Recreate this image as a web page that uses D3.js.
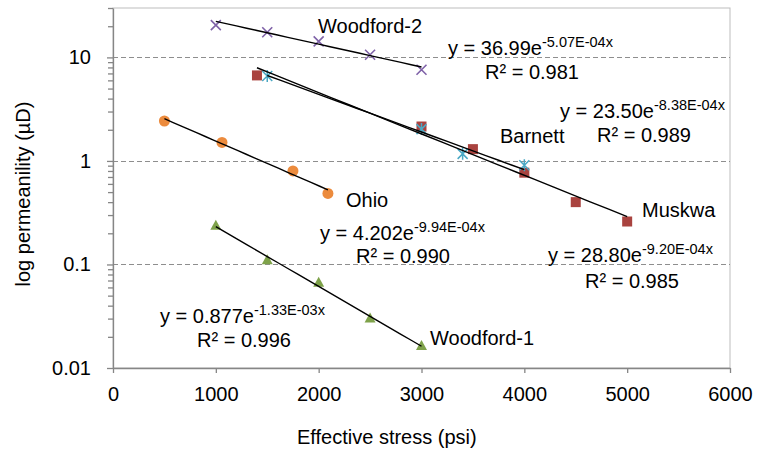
<!DOCTYPE html>
<html>
<head>
<meta charset="utf-8">
<script src="https://cdnjs.cloudflare.com/ajax/libs/d3/7.8.5/d3.min.js"></script>
<style>
  html, body { margin: 0; padding: 0; background: #fff; }
  svg { display: block; font-family: Arial, "Liberation Sans", sans-serif; }
</style>
</head>
<body>
<svg id="chart" width="758" height="450"></svg>
<script>
// Effective stress (psi) and permeability (µD) measurements per shale sample
const woodford2Stress = [1000, 1500, 2000, 2500, 3000];
const woodford2Perm   = [20.5, 17.5, 14.3, 10.6, 7.6];

const muskwaStress = [1400, 3000, 3500, 4000, 4500, 5000];
const muskwaPerm   = [6.7, 2.15, 1.30, 0.77, 0.40, 0.26];

const barnettStress = [1500, 3000, 3400, 4000];
const barnettPerm   = [6.6, 2.03, 1.17, 0.91];

const ohioStress = [500, 1060, 1750, 2090];
const ohioPerm   = [2.43, 1.51, 0.80, 0.486];

const woodford1Stress = [1000, 1500, 2000, 2500, 3000];
const woodford1Perm   = [0.236, 0.11, 0.0667, 0.030, 0.0163];

// Exponential fits y = a·e^(b·x) and their R² values
const seriesNames = ["Woodford-2", "Muskwa", "Barnett", "Ohio", "Woodford-1"];
const fitA     = [36.99, 28.80, 23.50, 4.202, 0.877];
const fitB     = [-5.07e-4, -9.20e-4, -8.38e-4, -9.94e-4, -1.33e-3];
const fitAText = ["36.99", "28.80", "23.50", "4.202", "0.877"];
const fitBText = ["-5.07E-04x", "-9.20E-04x", "-8.38E-04x", "-9.94E-04x", "-1.33E-03x"];
const fitR2    = ["0.981", "0.985", "0.989", "0.990", "0.996"];

// Axis ticks
const xTicks = [0, 1000, 2000, 3000, 4000, 5000, 6000];
const xTickLabels = ["0", "1000", "2000", "3000", "4000", "5000", "6000"];
const yTicks = [0.01, 0.1, 1, 10];
const yTickLabels = ["0.01", "0.1", "1", "10"];

const xTitle = "Effective stress (psi)";
const yTitle = "log permeanility (µD)";

const stressSets = [woodford2Stress, muskwaStress, barnettStress, ohioStress, woodford1Stress];
const permSets   = [woodford2Perm, muskwaPerm, barnettPerm, ohioPerm, woodford1Perm];

// ---- layout ----
const plot = { left: 113, right: 730, top: 8, bottom: 368 };
const svg = d3.select("#chart");

const x = d3.scaleLinear().domain([0, 6000]).range([plot.left, plot.right]);
const y = d3.scaleLog().domain([0.01, 30]).range([plot.bottom, plot.top]);

const axisGray = "#868686";
const colors  = ["#7f62a8", "#a9433f", "#4aa8c4", "#ec8b3d", "#7ea24a"];
const shapes  = ["cross", "square", "asterisk", "circle", "triangle"];

// plot frame
svg.append("rect")
  .attr("x", plot.left).attr("y", plot.top)
  .attr("width", plot.right - plot.left).attr("height", plot.bottom - plot.top)
  .attr("fill", "none").attr("stroke", "#bdbdbd").attr("stroke-width", 1);

// dashed gridlines on the major decades
svg.append("g").selectAll("line")
  .data(yTicks.filter(v => v > 0.01))
  .join("line")
  .attr("x1", plot.left).attr("x2", plot.right)
  .attr("y1", d => Math.round(y(d)) + 0.5).attr("y2", d => Math.round(y(d)) + 0.5)
  .attr("stroke", "#8e8e8e").attr("stroke-width", 1)
  .attr("stroke-dasharray", "5,3");

// x axis
const xAxis = svg.append("g")
  .attr("transform", `translate(0,${plot.bottom})`)
  .call(d3.axisBottom(x).tickValues(xTicks).tickSize(5).tickSizeOuter(0).tickPadding(14)
    .tickFormat((d, i) => xTickLabels[i]));
xAxis.select(".domain").attr("stroke", axisGray).attr("stroke-width", 1.3);
xAxis.selectAll(".tick line").attr("stroke", axisGray).attr("stroke-width", 1.3);
xAxis.selectAll(".tick text")
  .attr("font-size", 20).attr("fill", "#000").attr("font-family", "Arial, 'Liberation Sans', sans-serif");

// y axis: minor ticks at every integer multiple within each decade
const minorTicks = [];
[0.01, 0.1, 1, 10].forEach(dec => {
  for (let k = 2; k <= 9; k++) {
    const v = dec * k;
    if (v <= 30) minorTicks.push(v);
  }
});
const yMinor = svg.append("g")
  .attr("transform", `translate(${plot.left},0)`)
  .call(d3.axisLeft(y).tickValues(minorTicks).tickSize(5).tickFormat(""));
yMinor.select(".domain").remove();
yMinor.selectAll(".tick line").attr("stroke", axisGray).attr("stroke-width", 1.3);

const yAxis = svg.append("g")
  .attr("transform", `translate(${plot.left},0)`)
  .call(d3.axisLeft(y).tickValues(yTicks).tickSize(6).tickSizeOuter(0).tickPadding(16)
    .tickFormat((d, i) => yTickLabels[i]));
yAxis.select(".domain").attr("stroke", axisGray).attr("stroke-width", 1.3);
yAxis.selectAll(".tick line").attr("stroke", axisGray).attr("stroke-width", 1.3);
yAxis.selectAll(".tick text")
  .attr("font-size", 20).attr("fill", "#000").attr("font-family", "Arial, 'Liberation Sans', sans-serif");

// axis titles
svg.append("text")
  .attr("x", 297).attr("y", 444)
  .attr("font-size", 20).attr("fill", "#000")
  .text(xTitle);
svg.append("text")
  .attr("transform", "translate(30,194) rotate(-90)")
  .attr("text-anchor", "middle")
  .attr("font-size", 20).attr("fill", "#000")
  .text(yTitle);

// markers
function drawMarker(g, shape, color, cx, cy) {
  if (shape === "cross") {
    const r = 5;
    g.append("path")
      .attr("d", `M${cx - r},${cy - r}L${cx + r},${cy + r}M${cx - r},${cy + r}L${cx + r},${cy - r}`)
      .attr("stroke", color).attr("stroke-width", 1.6).attr("fill", "none");
  } else if (shape === "square") {
    const s = 10;
    g.append("rect").attr("x", cx - s / 2).attr("y", cy - s / 2)
      .attr("width", s).attr("height", s).attr("fill", color);
  } else if (shape === "asterisk") {
    const r = 5;
    g.append("path")
      .attr("d", `M${cx - r},${cy - r}L${cx + r},${cy + r}M${cx - r},${cy + r}L${cx + r},${cy - r}M${cx},${cy - r - 1}L${cx},${cy + r + 1}`)
      .attr("stroke", color).attr("stroke-width", 1.5).attr("fill", "none");
  } else if (shape === "circle") {
    g.append("circle").attr("cx", cx).attr("cy", cy).attr("r", 5.5).attr("fill", color);
  } else if (shape === "triangle") {
    const h = 10, w = 11;
    g.append("path")
      .attr("d", `M${cx},${cy - h * 0.6}L${cx + w / 2},${cy + h * 0.4}L${cx - w / 2},${cy + h * 0.4}Z`)
      .attr("fill", color);
  }
}

const markG = svg.append("g");
seriesNames.forEach((name, i) => {
  const g = markG.append("g");
  stressSets[i].forEach((sx, j) => {
    drawMarker(g, shapes[i], colors[i], x(sx), y(permSets[i][j]));
  });
});

// exponential trendlines, spanning each series' stress range
const line = d3.line().x(d => x(d[0])).y(d => y(d[1]));
const trendG = svg.append("g");
seriesNames.forEach((name, i) => {
  const xs = stressSets[i];
  const x0 = d3.min(xs), x1 = d3.max(xs);
  const pts = d3.range(0, 21).map(k => {
    const sx = x0 + (x1 - x0) * k / 20;
    return [sx, fitA[i] * Math.exp(fitB[i] * sx)];
  });
  trendG.append("path").datum(pts)
    .attr("d", line)
    .attr("fill", "none").attr("stroke", "#000").attr("stroke-width", 1.4);
});

// series names and equations
const annoLayout = {
  "Woodford-2": { name: [318, 33], eq: [448, 55], r2: [485, 79] },
  "Muskwa":     { name: [642, 217], eq: [548, 262], r2: [585, 288] },
  "Barnett":    { name: [500, 143], eq: [560, 118], r2: [597, 142] },
  "Ohio":       { name: [346, 207], eq: [320, 240], r2: [356, 263] },
  "Woodford-1": { name: [430, 345], eq: [160, 323], r2: [197, 347] }
};

const annoG = svg.append("g").attr("font-size", 20).attr("fill", "#000");
seriesNames.forEach((name, i) => {
  const L = annoLayout[name];
  annoG.append("text").attr("x", L.name[0]).attr("y", L.name[1]).text(name);
  const eq = annoG.append("text").attr("x", L.eq[0]).attr("y", L.eq[1]);
  eq.append("tspan").text(`y = ${fitAText[i]}e`);
  eq.append("tspan").attr("dy", -8).attr("font-size", 14.5).text(fitBText[i]);
  annoG.append("text").attr("x", L.r2[0]).attr("y", L.r2[1]).text(`R² = ${fitR2[i]}`);
});
</script>
</body>
</html>
